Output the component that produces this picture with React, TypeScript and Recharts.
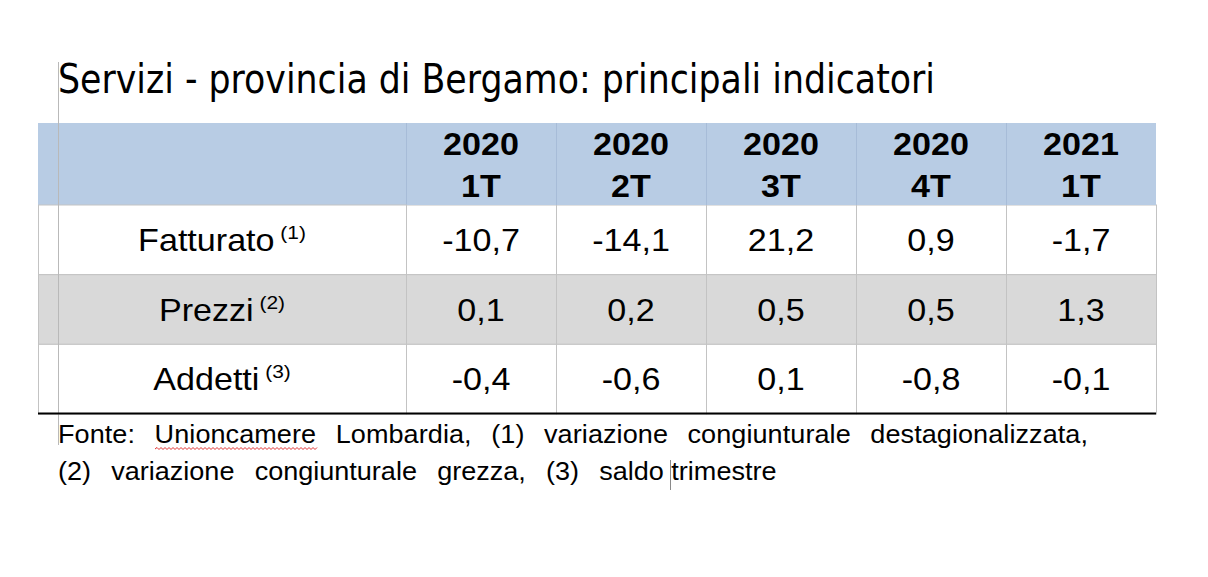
import React from 'react';
import { ScatterChart, Scatter, XAxis, YAxis } from 'recharts';

// ---- data ----
const periods = ['2020 1T', '2020 2T', '2020 3T', '2020 4T', '2021 1T'];
const indicators = ['Fatturato', 'Prezzi', 'Addetti'];
const indicatorNotes = ['(1)', '(2)', '(3)'];
const fatturato = [-10.7, -14.1, 21.2, 0.9, -1.7];
const prezzi = [0.1, 0.2, 0.5, 0.5, 1.3];
const addetti = [-0.4, -0.6, 0.1, -0.8, -0.1];

const titleText = 'Servizi - provincia di Bergamo: principali indicatori';
const sourceLine1 = 'Fonte: Unioncamere Lombardia, (1) variazione congiunturale destagionalizzata,';
const sourceLine2a = '(2) variazione congiunturale grezza, (3) saldo';
const sourceLine2b = ' trimestre';

const seriesByIndicator = [fatturato, prezzi, addetti];
const cells = indicators.flatMap((ind, r) =>
  periods.map((p, c) => ({ period: p, indicator: ind, value: seriesByIndicator[r][c] }))
);

// ---- layout / style ----
const W = 1208;
const H = 577;
const MARGIN = { top: 123, right: 52, bottom: 163, left: 38 };
const HEADER_H = 82;
const LABEL_W = 368;
const COL_W = (W - MARGIN.left - LABEL_W - MARGIN.right) / periods.length;
const ROW_H = (H - MARGIN.top - HEADER_H - MARGIN.bottom) / indicators.length;
const SX = 1.1;
const FONT = '"Liberation Sans", Arial, sans-serif';
const BLUE = '#b8cce4';
const BLUE_LINE = '#a7bcd8';
const GRAY_ROW = '#d9d9d9';
const GRID = '#c3c3c3';

const fmt = (v: number) => v.toFixed(1).replace('.', ',');

const HeaderTick = (props: any) => {
  const { x, payload, index } = props;
  const [year, q] = String(payload.value).split(' ');
  const half = COL_W / 2;
  const top = MARGIN.top;
  return (
    <g>
      {index === 0 && (
        <rect x={MARGIN.left} y={top} width={x - half - MARGIN.left} height={HEADER_H} fill={BLUE} />
      )}
      <rect x={x - half} y={top} width={COL_W} height={HEADER_H} fill={BLUE} />
      <line x1={x - half + 0.5} x2={x - half + 0.5} y1={top} y2={top + HEADER_H} stroke={BLUE_LINE} strokeWidth={1} />
      <text
        transform={`translate(${x},${top + 32}) scale(${SX},1)`}
        textAnchor="middle"
        fontFamily={FONT}
        fontWeight="bold"
        fontSize={31}
        fill="#000"
      >
        {year}
      </text>
      <text
        transform={`translate(${x},${top + 74}) scale(${SX},1)`}
        textAnchor="middle"
        fontFamily={FONT}
        fontWeight="bold"
        fontSize={31}
        fill="#000"
      >
        {q}
      </text>
    </g>
  );
};

const RowTick = (props: any) => {
  const { y, payload } = props;
  const idx = indicators.indexOf(String(payload.value));
  const cx = MARGIN.left + LABEL_W / 2;
  return (
    <g>
      <rect
        x={MARGIN.left + 0.5}
        y={y - ROW_H / 2}
        width={LABEL_W}
        height={ROW_H}
        fill={idx % 2 === 1 ? GRAY_ROW : '#ffffff'}
        stroke={GRID}
        strokeWidth={1}
      />
      <text
        transform={`translate(${cx},${y + 11}) scale(${SX},1)`}
        textAnchor="middle"
        fontFamily={FONT}
        fontSize={31}
        fill="#000"
      >
        <tspan>{payload.value}</tspan>
        <tspan fontSize={19} dy={-12}>{'  ' + indicatorNotes[idx]}</tspan>
      </text>
    </g>
  );
};

const ValueCell = (props: any) => {
  const { cx, cy, payload } = props;
  if (cx == null || cy == null || !payload) return null;
  const idx = indicators.indexOf(payload.indicator);
  return (
    <g>
      <rect
        x={cx - COL_W / 2 + 0.5}
        y={cy - ROW_H / 2}
        width={COL_W}
        height={ROW_H}
        fill={idx % 2 === 1 ? GRAY_ROW : '#ffffff'}
        stroke={GRID}
        strokeWidth={1}
      />
      <text
        transform={`translate(${cx},${cy + 11}) scale(${SX},1)`}
        textAnchor="middle"
        fontFamily={FONT}
        fontSize={31}
        fill="#000"
      >
        {fmt(payload.value)}
      </text>
    </g>
  );
};

const squiggle = (() => {
  const x0 = 155;
  const x1 = 318;
  const yb = 449;
  let d = `M${x0},${yb}`;
  let up = true;
  for (let x = x0 + 2; x <= x1; x += 2) {
    d += ` L${x},${up ? yb - 1.5 : yb + 0.5}`;
    up = !up;
  }
  return d;
})();

const FSX = 1.04;

export default function App() {
  const tableBottom = H - MARGIN.bottom;
  return (
    <div style={{ position: 'relative', width: W, height: H, background: '#fff' }}>
      <style>{'body{margin:0;background:#fff}'}</style>
      <ScatterChart width={W} height={H} margin={MARGIN}>
        <XAxis
          dataKey="period"
          type="category"
          orientation="top"
          height={HEADER_H}
          allowDuplicatedCategory={false}
          axisLine={false}
          tickLine={false}
          interval={0}
          tick={<HeaderTick />}
        />
        <YAxis
          dataKey="indicator"
          type="category"
          width={LABEL_W}
          reversed
          allowDuplicatedCategory={false}
          axisLine={false}
          tickLine={false}
          interval={0}
          tick={<RowTick />}
        />
        <Scatter data={cells} isAnimationActive={false} shape={<ValueCell />} />
      </ScatterChart>
      <svg
        width={W}
        height={H}
        style={{ position: 'absolute', left: 0, top: 0, pointerEvents: 'none' }}
      >
        <text
          x={58}
          y={93}
          fontFamily='"DejaVu Sans Condensed", "DejaVu Sans", sans-serif'
          fontSize={40}
          textLength={877}
          lengthAdjust="spacingAndGlyphs"
          fill="#000"
        >
          {titleText}
        </text>
        <line x1={58.5} x2={58.5} y1={62} y2={445} stroke="#b9b9b9" strokeWidth={1} />
        <line x1={MARGIN.left} x2={W - MARGIN.right} y1={tableBottom - 0.5} y2={tableBottom - 0.5} stroke="#000" strokeWidth={2} />
        <text
          transform={`translate(58,443) scale(${FSX},1)`}
          fontFamily={FONT}
          fontSize={26}
          textLength={1030 / FSX}
          lengthAdjust="spacing"
          wordSpacing={11.5}
          fill="#000"
        >
          {sourceLine1}
        </text>
        <path d={squiggle} fill="none" stroke="#e03030" strokeWidth={1} />
        <text
          transform={`translate(58,480) scale(${FSX},1)`}
          fontFamily={FONT}
          fontSize={26}
          fill="#000"
        >
          <tspan wordSpacing={12.2}>{sourceLine2a}</tspan>
          <tspan wordSpacing={0}>{sourceLine2b}</tspan>
        </text>
        <line x1={670.5} x2={670.5} y1={460} y2={490} stroke="#8a8a8a" strokeWidth={1} />
      </svg>
    </div>
  );
}
